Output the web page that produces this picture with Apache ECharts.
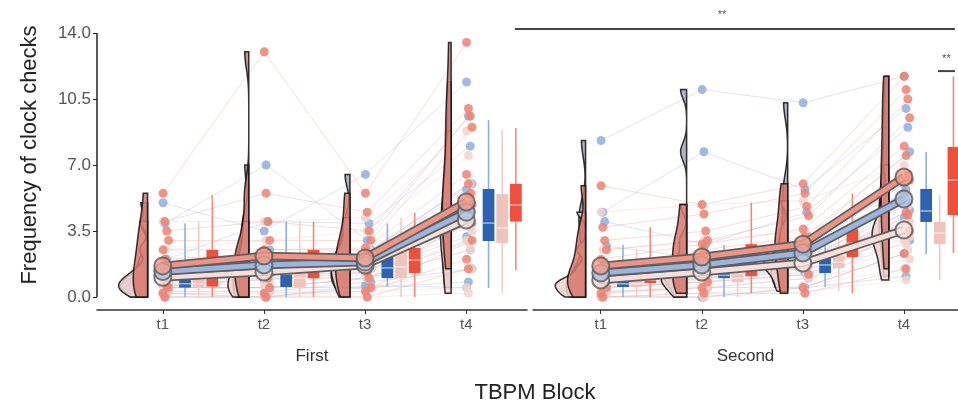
<!DOCTYPE html>
<html><head><meta charset="utf-8">
<script src="https://cdn.jsdelivr.net/npm/echarts@6/dist/echarts.min.js"></script>
<style>html,body{margin:0;padding:0;background:#fff}#c{width:958px;height:404px}</style>
</head><body><div id="c"></div>
<script>
// ---------------- DATA ----------------
const timeLabels = ['t1', 't2', 't3', 't4'];
const blockLabels = ['First', 'Second'];
const yTicks = [0, 3.5, 7, 10.5, 14];

// per-subject values [t1, t2, t3, t4]
const firstBlue = [[5.0,3.5,6.5,11.4],[3.9,7.0,3.0,9.6],[2.0,4.0,3.9,8.0],[1.5,2.5,2.5,6.0],[1.0,1.9,2.1,5.7],[0.9,1.8,2.0,5.2],[0.8,1.5,1.7,4.5],[0.7,1.2,1.5,3.9],[0.6,0.9,1.3,3.2],[0.5,0.5,1.0,3.0],[0.5,0.5,1.0,2.5],[0.3,0.3,0.8,1.5],[0.2,0.0,0.6,0.5],[0.0,0.0,0.5,0.8]];
const firstPink = [[4.0,4.0,4.2,8.8],[2.5,3.0,3.5,7.5],[1.5,2.2,2.5,6.0],[1.2,1.8,2.3,5.5],[1.0,1.5,2.0,5.0],[0.9,1.2,1.8,4.3],[0.8,1.0,1.6,3.7],[0.7,0.9,1.5,3.5],[0.6,0.7,1.2,3.0],[0.5,0.5,1.0,2.9],[0.4,0.5,1.0,2.5],[0.3,0.3,0.5,1.5],[0.2,0.0,0.3,0.5],[0.0,0.0,0.0,0.2]];
const firstRed = [[5.5,13.0,5.5,13.5],[4.0,5.5,4.5,10.0],[3.5,4.0,3.5,9.6],[3.0,3.0,3.0,9.0],[2.5,2.5,2.6,6.5],[2.0,2.3,2.3,6.0],[1.7,2.1,2.0,5.5],[1.5,1.8,1.9,4.9],[1.0,1.5,1.5,4.5],[0.8,1.2,1.3,4.2],[0.6,1.0,1.0,4.0],[0.5,0.5,0.5,3.0],[0.2,0.2,0.3,2.0],[0.0,0.0,0.0,1.5]];
const secondBlue = [[8.3,11.0,10.3,11.7],[4.5,7.7,5.7,10.0],[4.0,2.8,4.5,9.0],[2.7,2.0,3.2,7.7],[1.0,1.5,2.5,6.0],[0.85,1.3,2.1,5.7],[0.8,1.2,1.9,5.0],[0.7,1.15,1.7,4.6],[0.6,1.0,1.5,4.2],[0.5,1.0,1.3,4.0],[0.5,0.8,1.2,3.5],[0.3,0.5,1.0,3.0],[0.0,0.0,0.5,2.3],[0.0,0.0,0.5,1.1]];
const secondPink = [[4.5,4.9,5.1,7.0],[2.5,3.0,3.5,5.4],[1.5,2.2,2.8,4.8],[1.0,1.6,2.2,4.0],[0.9,1.3,2.0,3.9],[0.8,1.2,1.9,3.6],[0.7,1.0,1.8,3.4],[0.6,1.0,1.7,3.2],[0.5,0.9,1.6,3.0],[0.5,0.8,1.5,2.8],[0.3,0.6,1.2,2.5],[0.2,0.5,1.0,2.0],[0.0,0.2,0.6,1.5],[0.0,0.0,0.3,0.9]];
const secondRed = [[5.9,4.9,6.0,11.7],[3.7,4.4,5.5,11.0],[3.0,3.5,4.8,10.5],[2.5,3.0,4.3,9.5],[2.0,2.8,3.6,8.0],[1.5,2.5,3.2,7.5],[1.2,2.3,2.9,6.5],[1.06,2.0,2.8,6.2],[0.9,1.5,2.5,5.5],[0.8,1.2,2.1,4.5],[0.74,1.1,1.8,4.35],[0.5,0.8,1.2,3.5],[0.2,0.5,0.5,2.3],[0.0,0.2,0.2,1.5]];

// group means per time
const meanFirstBlue = [1.35, 1.70, 1.85, 4.50];
const meanFirstPink = [1.05, 1.33, 1.70, 4.08];
const meanFirstRed = [1.65, 2.17, 2.07, 5.04];
const meanSecondBlue = [1.27, 1.70, 2.33, 5.20];
const meanSecondPink = [0.90, 1.33, 1.80, 3.55];
const meanSecondRed = [1.64, 2.12, 2.80, 6.36];

// box stats per time [min, q1, median, q3, max]
const boxFirstBlue = [[0,0.5,0.7,0.9,3.9],[0,0.53,1.2,1.86,4.0],[0.53,1.0,1.54,2.12,3.9],[0.48,2.97,3.92,5.73,9.38]];
const boxFirstPink = [[0,0.5,0.7,0.9,4.0],[0,0.5,1.0,2.1,4.0],[0,1.0,1.6,2.5,4.2],[0.2,2.86,3.66,5.46,8.85]];
const boxFirstRed = [[0,0.55,1.6,2.5,5.4],[0,1.0,2.1,2.5,4.0],[0,1.27,1.96,2.6,4.45],[1.43,4.0,4.88,6.0,8.96]];
const boxSecondBlue = [[0,0.53,0.7,0.85,2.76],[0,1.0,1.15,1.33,2.76],[0.53,1.27,1.7,2.12,3.2],[2.28,3.98,4.56,5.73,7.69]];
const boxSecondPink = [[0,0.53,0.7,0.85,2.5],[0,0.8,1.0,1.2,2.5],[0.3,1.54,1.85,2.2,3.5],[0.9,2.81,3.39,3.98,5.4]];
const boxSecondRed = [[0,0.74,0.9,1.06,3.7],[0.2,1.1,2.3,2.8,5.0],[0.2,2.12,2.86,3.6,5.5],[2.33,4.35,6.2,7.95,11.7]];

// significance annotations
const sigLabels = ['**', '**'];

// ---------------- STYLE ----------------
const groups = ['blue', 'pink', 'red'];
const colors = {
  blue: {box:'#2d62b3', whisker:'#8fb0df', point:'#8eaede', line:'#9ab6e0', mean:'#a8c2e6', violin:'#a2a2bd', subj:'#a7bde4'},
  pink: {box:'#f0c3bb', whisker:'#f2cdc6', point:'#f3d3cd', line:'#f8ded8', mean:'#f9e5df', violin:'#f1d2cc', subj:'#f3cfc8'},
  red:  {box:'#f04f3c', whisker:'#f28a7c', point:'#ef8171', line:'#ef9383', mean:'#f29b8b', violin:'#d8776c', subj:'#f2a497'}
};
const boxOffset = {blue:0.22, pink:0.355, red:0.49};
const boxHalf = 0.058;
const violinOffset = -0.15;
const violinMaxWidth = 0.30;
const violinPow = 0.7;
const jit = i => ((i % 4) - 1.5) * 0.018 + 0.03;

const blocks = [
  {subj:{blue:firstBlue, pink:firstPink, red:firstRed}, mean:{blue:meanFirstBlue, pink:meanFirstPink, red:meanFirstRed}, box:{blue:boxFirstBlue, pink:boxFirstPink, red:boxFirstRed}},
  {subj:{blue:secondBlue, pink:secondPink, red:secondRed}, mean:{blue:meanSecondBlue, pink:meanSecondPink, red:meanSecondRed}, box:{blue:boxSecondBlue, pink:boxSecondPink, red:boxSecondRed}}
];

// ---------------- KDE for half violins ----------------
function quantile(s, p){ const h=(s.length-1)*p, lo=Math.floor(h), hi=Math.ceil(h); return s[lo]+(s[hi]-s[lo])*(h-lo); }
function kde(vals){
  const n = vals.length, s = vals.slice().sort((a,b)=>a-b);
  const mu = s.reduce((a,b)=>a+b,0)/n;
  const sd = Math.sqrt(s.reduce((a,b)=>a+(b-mu)*(b-mu),0)/(n-1));
  const iqr = quantile(s,0.75)-quantile(s,0.25);
  let lo = Math.min(sd, iqr/1.34); if(!(lo>0)) lo = sd;
  const h = 0.9*lo*Math.pow(n,-0.2);
  const mn = s[0], mx = s[n-1], steps = 80, out = [];
  for(let k=0;k<=steps;k++){
    const y = mn + (mx-mn)*k/steps;
    let d = 0; for(const v of s){ const z=(y-v)/h; d += Math.exp(-0.5*z*z); }
    out.push([y, Math.pow(d/(n*h*Math.sqrt(2*Math.PI)), violinPow)]);
  }
  return out;
}
const shapes = blocks.map(b => { const r={}; groups.forEach(g => { r[g] = [0,1,2,3].map(t => kde(b.subj[g].map(s=>s[t]))); }); return r; });
let maxD = 0; shapes.forEach(b => groups.forEach(g => b[g].forEach(sh => sh.forEach(p => { if(p[1]>maxD) maxD=p[1]; }))));
const dScale = violinMaxWidth / maxD;

// ---------------- SERIES ----------------
const series = [];
const xRanges = [[0.35, 4.6], [0.33, 4.535]];

// y axis segment (0..14) on the first panel
series.push({type:'line', xAxisIndex:0, yAxisIndex:0, data:[[xRanges[0][0], yTicks[0]], [xRanges[0][0], yTicks[yTicks.length-1]]], symbol:'none', clip:false, silent:true, z:5, lineStyle:{color:'#222', width:1.5}});

blocks.forEach((b, bi) => {
  // individual subject lines
  groups.forEach(g => {
    series.push({
      type:'custom', xAxisIndex:bi, yAxisIndex:bi, z:1, silent:true,
      dimensions:['v1','v2','v3','v4'], encode:{x:'v1', y:'v2'},
      data: b.subj[g],
      renderItem: (p, api) => {
        const pts = [0,1,2,3].map(k => api.coord([k+1+jit(p.dataIndex), api.value(k)]));
        return {type:'polyline', shape:{points:pts}, style:{stroke:colors[g].subj, lineWidth:1, opacity:0.4, fill:null}};
      }
    });
  });
  // half violins
  groups.forEach((g, gi) => {
    series.push({
      type:'custom', xAxisIndex:bi, yAxisIndex:bi, z:3+gi, silent:true,
      data: [[1],[2],[3],[4]],
      renderItem: (p, api) => {
        const t = api.value(0), sh = shapes[bi][g][t-1];
        const base = t + violinOffset, pts = [];
        sh.forEach(q => pts.push(api.coord([base, q[0]])));
        for(let k=sh.length-1;k>=0;k--) pts.push(api.coord([base - sh[k][1]*dScale, sh[k][0]]));
        return {type:'polygon', shape:{points:pts}, style:{fill:colors[g].violin, opacity:0.85, stroke:'#111', lineWidth:1.5}};
      }
    });
  });
  // jittered points
  groups.forEach(g => {
    const pts = [];
    b.subj[g].forEach((s, i) => s.forEach((v, k) => pts.push([k+1+jit(i), v])));
    series.push({type:'scatter', xAxisIndex:bi, yAxisIndex:bi, z:6, silent:true, symbolSize:9, data:pts, itemStyle:{color:colors[g].point, opacity:0.85}});
  });
  // boxplots
  groups.forEach(g => {
    series.push({
      type:'custom', xAxisIndex:bi, yAxisIndex:bi, z:7, silent:true,
      dimensions:['t','mn','q1','md','q3','mx'], encode:{x:'t', y:'md'},
      data: b.box[g].map((st, k) => [k+1].concat(st)),
      renderItem: (p, api) => {
        const x = api.value(0) + boxOffset[g];
        const top = api.coord([x, api.value(5)]), bot = api.coord([x, api.value(1)]);
        const a = api.coord([x-boxHalf, api.value(4)]), c = api.coord([x+boxHalf, api.value(2)]);
        const m = api.coord([x, api.value(3)]);
        return {type:'group', children:[
          {type:'line', shape:{x1:top[0], y1:top[1], x2:bot[0], y2:bot[1]}, style:{stroke:colors[g].whisker, lineWidth:1.6}},
          {type:'rect', shape:{x:a[0], y:a[1], width:c[0]-a[0], height:c[1]-a[1]}, style:{fill:colors[g].box}},
          {type:'line', shape:{x1:a[0], y1:m[1], x2:c[0], y2:m[1]}, style:{stroke:'rgba(255,255,255,0.55)', lineWidth:1.5}}
        ]};
      }
    });
  });
  // mean lines with outline
  const order = ['pink', 'blue', 'red'];
  order.forEach((g, oi) => {
    const d = b.mean[g].map((v, k) => [k+1, v]);
    series.push({type:'line', xAxisIndex:bi, yAxisIndex:bi, z:10+oi*2, silent:true, data:d, symbol:'none', lineStyle:{color:'#5e5e5e', width:8.5}});
    series.push({type:'line', xAxisIndex:bi, yAxisIndex:bi, z:11+oi*2, silent:true, data:d, symbol:'none', lineStyle:{color:colors[g].line, width:5}});
  });
  order.forEach((g, oi) => {
    series.push({type:'scatter', xAxisIndex:bi, yAxisIndex:bi, z:20+oi, silent:true, symbolSize:17,
      data: b.mean[g].map((v, k) => [k+1, v]),
      itemStyle:{color:colors[g].mean, borderColor:'#5a5a5a', borderWidth:2}});
  });
});

const font = 'Liberation Sans, Arial, sans-serif';
const xAxes = [0,1].map(i => ({
  gridIndex:i, type:'value', min:xRanges[i][0], max:xRanges[i][1],
  axisLine:{show:true, onZero:false, lineStyle:{color:'#333', width:1.5}},
  axisTick:{show:true, customValues:[1,2,3,4], length:4, lineStyle:{color:'#333'}},
  axisLabel:{customValues:[1,2,3,4], formatter:v => timeLabels[Math.round(v)-1], color:'#555', fontSize:15, margin:7, fontFamily:font},
  splitLine:{show:false},
  name:blockLabels[i], nameLocation:'middle', nameGap:38, nameTextStyle:{fontSize:17, color:'#333', fontFamily:font}
}));
const yAxes = [0,1].map(i => ({
  gridIndex:i, type:'value', min:-0.69, max:15.75, show: i===0,
  axisLine:{show:false},
  axisTick:{show:true, customValues:yTicks, length:4, lineStyle:{color:'#222'}},
  axisLabel:{customValues:yTicks, formatter:v => v.toFixed(1), color:'#555', fontSize:17, margin:6, fontFamily:font},
  splitLine:{show:false},
  name: i===0 ? 'Frequency of clock checks' : '', nameLocation:'middle', nameGap:56,
  nameTextStyle:{fontSize:22, color:'#222', fontFamily:font}
}));

const chart = echarts.init(document.getElementById('c'), null, {renderer:'canvas'});
chart.setOption({
  animation:false, backgroundColor:'#fff',
  grid:[{left:97, right:431, top:0, bottom:94}, {left:533, right:0, top:0, bottom:94}],
  xAxis:xAxes, yAxis:yAxes, series:series
});

// significance bars, positioned through the axes
const P = (gi, x, y) => chart.convertToPixel({xAxisIndex:gi, yAxisIndex:gi}, [x, y]);
const bars = [
  {a:P(0, 4.48, 14.21), b:P(1, 4.505, 14.21), t:P(1, 2.2, 14.95), label:sigLabels[0]},
  {a:P(1, 4.337, 11.98), b:P(1, 4.505, 11.98), t:P(1, 4.42, 12.6), label:sigLabels[1]}
];
const g = [{type:'text', x:535, y:393, style:{text:'TBPM Block', fontSize:22, fill:'#222', fontFamily:font, textAlign:'center', textVerticalAlign:'middle'}}];
bars.forEach(bb => {
  g.push({type:'line', shape:{x1:bb.a[0], y1:bb.a[1], x2:bb.b[0], y2:bb.b[1]}, style:{stroke:'#444', lineWidth:2}});
  g.push({type:'text', x:bb.t[0], y:bb.t[1], style:{text:bb.label, fontSize:11, fill:'#555', fontFamily:font, textAlign:'center', textVerticalAlign:'middle'}});
});
chart.setOption({graphic:g});
</script></body></html>
